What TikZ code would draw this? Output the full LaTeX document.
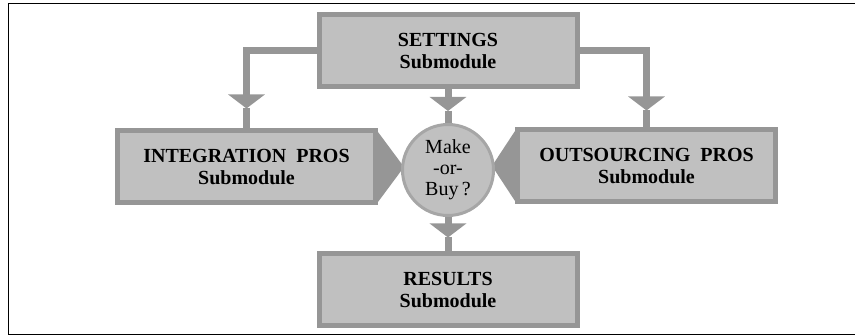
\documentclass[tikz,border=0pt]{standalone}
\usepackage{fontspec}
\setmainfont{Liberation Serif}
\usetikzlibrary{arrows.meta,calc,backgrounds}
\definecolor{boxfill}{HTML}{C0C0C0}
\definecolor{boxline}{HTML}{969696}
\definecolor{ringline}{HTML}{A6A6A6}
\begin{document}
\begin{tikzpicture}[x=1pt,y=-1pt,
        every node/.style={font=\fontsize{20}{21}\selectfont, align=center, inner sep=0pt},
        module/.style={draw=boxline, fill=boxfill, line width=5pt,
            minimum width=258pt, minimum height=72pt,
            font=\fontsize{20}{22.5}\selectfont\bfseries},
        decision/.style={circle, draw=ringline, fill=boxfill, line width=3pt,
            minimum size=91pt, font=\fontsize{20}{21}\selectfont},
        link/.style={draw=boxline, line width=7pt},
        headed/.style={-{Triangle[width=36pt,length=14pt]}}]
    \useasboundingbox (0,0) rectangle (855,336);
    \draw[line width=1.5pt] (857,3.5) -- (8.5,3.5) -- (8.5,334.5) -- (857,334.5);
    \node[module] (settings) at (448,51) {SETTINGS\\Submodule};
    \node[module] (integration) at (246.5,167) {INTEGRATION~~PROS\\Submodule};
    \node[module] (outsourcing) at (646.5,166) {OUTSOURCING~~PROS\\Submodule};
    \node[module] (results) at (448,290) {RESULTS\\Submodule};
    \node[decision] (make) at (448,170) {Make\\-or-\\Buy\,?};
    \begin{scope}[on background layer]
        \path (integration.north) ++(0,-20) coordinate (tipl);
        \path (outsourcing.north) ++(0,-17) coordinate (tipr);
        \path (make.north) ++(0,-12) coordinate (tipm);
        \path (results.north) ++(0,-14) coordinate (tipb);
        \draw[link,headed] (settings.west) -| (tipl);
        \draw[link] (tipl) -- (integration.north);
        \draw[link,headed] (settings.east) -| (tipr);
        \draw[link] (tipr) -- (outsourcing.north);
        \draw[link,headed] (settings.south) -- (tipm);
        \draw[link] (tipm) -- (make.north);
        \draw[link,headed] (make.south) -- (tipb);
        \draw[link] (tipb) -- (results.north);
        \fill[boxline] ($(integration.east)+(0,-35)$) -- ($(make.west |- integration.east)+(3,0)$)
            -- ($(integration.east)+(0,35)$) -- cycle;
        \fill[boxline] ($(outsourcing.west)+(0,-35)$) -- ($(make.east |- outsourcing.west)+(-3,0)$)
            -- ($(outsourcing.west)+(0,35)$) -- cycle;
    \end{scope}
\end{tikzpicture}
\end{document}
